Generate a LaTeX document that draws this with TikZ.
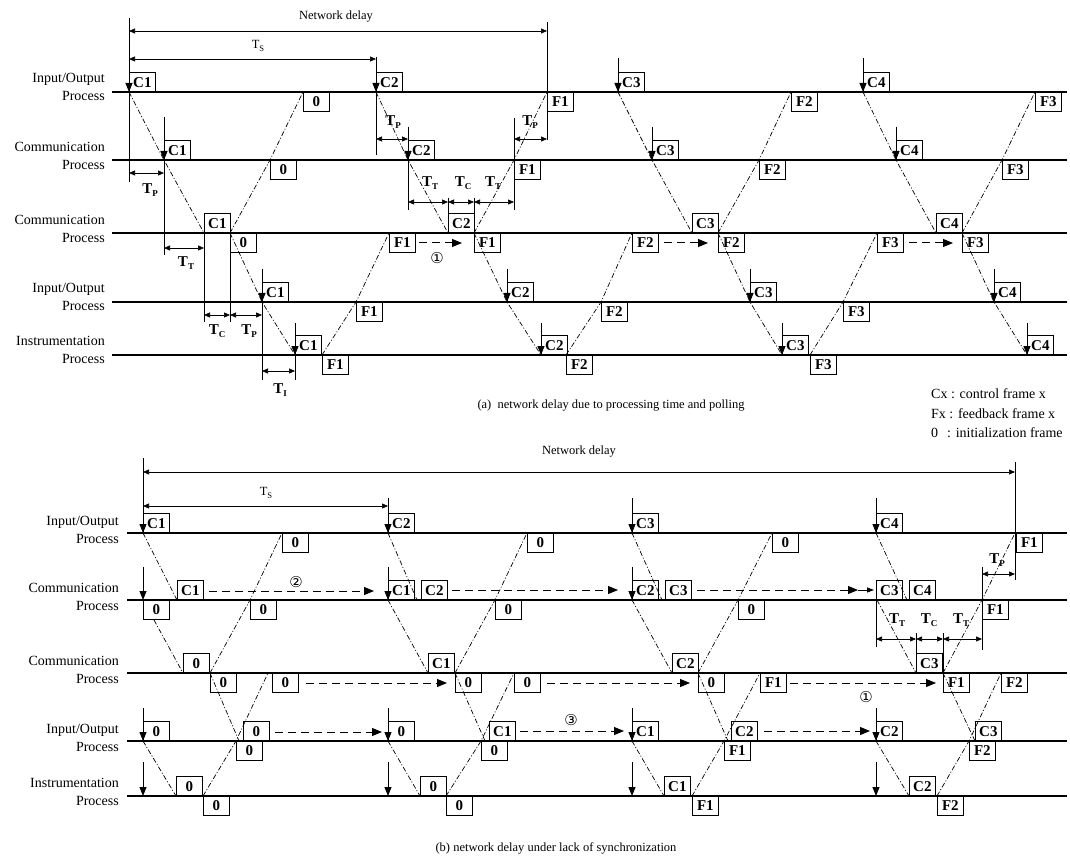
\documentclass[tikz,border=0pt]{standalone}
\usepackage{fontspec}
\setmainfont{Liberation Serif}
\newfontfamily\djv{DejaVu Sans}
\usetikzlibrary{arrows.meta}
\tikzset{
  rowline/.style={line width=1.1pt},
  dd/.style={line width=0.7pt, dash pattern=on 5pt off 2pt on 1pt off 2pt},
  frm/.style={draw, line width=0.7pt, minimum width=26pt, minimum height=19pt, inner sep=0.5pt, font=\fontsize{15}{15}\selectfont\bfseries},
  up/.style={frm, anchor=south west},
  dn/.style={frm, anchor=north west},
  darr/.style={line width=0.9pt, -{Triangle[length=9pt,width=7pt]}},
  dim/.style={line width=0.6pt, {Triangle[length=6pt,width=5pt]}-{Triangle[length=6pt,width=5pt]}},
  bnd/.style={line width=0.6pt},
  dsh/.style={line width=1pt, dash pattern=on 8pt off 5pt, -{Triangle[length=10pt,width=8pt]}},
  rowlab/.style={anchor=east, align=right, inner sep=0pt, font=\fontsize{14}{18.5}\selectfont},
  tlab/.style={inner sep=0pt, font=\fontsize{15}{15}\selectfont\bfseries},
  txt/.style={inner sep=0pt, font=\fontsize{12.5}{12.5}\selectfont},
  legend/.style={inner sep=0pt, anchor=west, font=\fontsize{14}{14}\selectfont},
  circ/.style={inner sep=0pt, font=\djv\fontsize{15}{15}\selectfont},
}
\newcommand{\Tx}[1]{T\raisebox{-3pt}{\fontsize{9}{9}\selectfont #1}}
\newcommand{\Ts}[1]{T\raisebox{-2.5pt}{\fontsize{8.5}{8.5}\selectfont #1}}
\newcommand{\dar}[2]{\path (#1) ++(0,-#2) coordinate (#1t); \draw[darr] (#1t) -- (#1);}
\newcommand{\vb}[4]{\coordinate (#1a) at (#2,#3); \coordinate (#1b) at (#2,#4); \draw[bnd] (#1a) -- (#1b);}
\newcommand{\dimar}[4]{\coordinate (#1a) at (#2,#4); \coordinate (#1b) at (#3,#4); \draw[dim] (#1a) -- (#1b);}
\newcommand{\dsa}[4]{\coordinate (#1a) at (#2,#4); \coordinate (#1b) at (#3,#4); \draw[dsh] (#1a) -- (#1b);}
\begin{document}
\begin{tikzpicture}[x=1pt,y=-1pt]
\useasboundingbox (0,0) rectangle (1070,858);
\def\aA{92}\def\aB{160}\def\aC{233}\def\aD{302}\def\aE{355}
\def\bA{533}\def\bB{600}\def\bC{673}\def\bD{741}\def\bE{796}

% ================= (a) =================
\foreach \r/\y in {1/\aA,2/\aB,3/\aC,4/\aD,5/\aE}{
  \coordinate (aL\r) at (112,\y); \coordinate (aR\r) at (1067,\y);
  \draw[rowline] (aL\r) -- (aR\r);
}
\node[rowlab] (laA) at (105,\aA-5) {Input/Output\\Process};
\node[rowlab] (laB) at (105,\aB-4) {Communication\\Process};
\node[rowlab] (laC) at (105,\aC-4) {Communication\\Process};
\node[rowlab] (laD) at (105,\aD-5) {Input/Output\\Process};
\node[rowlab] (laE) at (105,\aE-5) {Instrumentation\\Process};

\coordinate (a1c1) at (129,\aA);
\coordinate (a2c1) at (164,\aB);
\coordinate (a3c1) at (204,\aC);
\coordinate (a3c1r) at (230,\aC);
\coordinate (a4c1) at (262,\aD);
\coordinate (a5c1) at (295,\aE);
\coordinate (a2z) at (270,\aB);
\coordinate (a1z) at (303,\aA);
\coordinate (a5f1) at (322,\aE);
\coordinate (a4f1) at (356,\aD);
\coordinate (a3f1) at (389,\aC);
\coordinate (a1c2) at (376,\aA);
\coordinate (a2c2) at (408,\aB);
\coordinate (a3c2) at (448,\aC);
\coordinate (a3c2r) at (474,\aC);
\coordinate (a2f1) at (514,\aB);
\coordinate (a1f1) at (547,\aA);
\coordinate (a4c2) at (507,\aD);
\coordinate (a5c2) at (541,\aE);
\coordinate (a5f2) at (566,\aE);
\coordinate (a4f2) at (601,\aD);
\coordinate (a3f2) at (632,\aC);
\coordinate (a1c3) at (618,\aA);
\coordinate (a2c3) at (652,\aB);
\coordinate (a3c3) at (692,\aC);
\coordinate (a3c3r) at (718,\aC);
\coordinate (a2f2) at (759,\aB);
\coordinate (a1f2) at (791,\aA);
\coordinate (a4c3) at (750,\aD);
\coordinate (a5c3) at (782,\aE);
\coordinate (a5f3) at (810,\aE);
\coordinate (a4f3) at (843,\aD);
\coordinate (a3f3) at (877,\aC);
\coordinate (a1c4) at (863,\aA);
\coordinate (a2c4) at (896,\aB);
\coordinate (a3c4) at (936,\aC);
\coordinate (a3c4r) at (962,\aC);
\coordinate (a2f3) at (1002,\aB);
\coordinate (a1f3) at (1035,\aA);
\coordinate (a4c4) at (994,\aD);
\coordinate (a5c4) at (1027,\aE);

\draw[dd] (a1c1) -- (a2c1) -- (a3c1);
\draw[dd] (a3c1r) -- (a4c1) -- (a5c1);
\draw[dd] (a3c1r) -- (a2z) -- (a1z);
\draw[dd] (a5f1) -- (a4f1) -- (a3f1);
\draw[dd] (a1c2) -- (a2c2) -- (a3c2);
\draw[dd] (a3c2r) -- (a4c2) -- (a5c2);
\draw[dd] (a3c2r) -- (a2f1) -- (a1f1);
\draw[dd] (a5f2) -- (a4f2) -- (a3f2);
\draw[dd] (a1c3) -- (a2c3) -- (a3c3);
\draw[dd] (a3c3r) -- (a4c3) -- (a5c3);
\draw[dd] (a3c3r) -- (a2f2) -- (a1f2);
\draw[dd] (a5f3) -- (a4f3) -- (a3f3);
\draw[dd] (a1c4) -- (a2c4) -- (a3c4);
\draw[dd] (a3c4r) -- (a4c4) -- (a5c4);
\draw[dd] (a3c4r) -- (a2f3) -- (a1f3);

% boxes (a)
\node[up] (na1c1) at (a1c1) {C1};
\node[dn] (na1z) at (a1z) {0};
\node[up] (na1c2) at (a1c2) {C2};
\node[dn] (na1f1) at (a1f1) {F1};
\node[up] (na1c3) at (a1c3) {C3};
\node[dn] (na1f2) at (a1f2) {F2};
\node[up] (na1c4) at (a1c4) {C4};
\node[dn] (na1f3) at (a1f3) {F3};
\node[up] (na2c1) at (a2c1) {C1};
\node[dn] (na2z) at (a2z) {0};
\node[up] (na2c2) at (a2c2) {C2};
\node[dn] (na2f1) at (a2f1) {F1};
\node[up] (na2c3) at (a2c3) {C3};
\node[dn] (na2f2) at (a2f2) {F2};
\node[up] (na2c4) at (a2c4) {C4};
\node[dn] (na2f3) at (a2f3) {F3};
\node[up] (na3c1) at (a3c1) {C1};
\node[dn] (na3z) at (a3c1r) {0};
\node[dn] (na3f1) at (a3f1) {F1};
\node[up] (na3c2) at (a3c2) {C2};
\node[dn] (na3f1b) at (a3c2r) {F1};
\node[dn] (na3f2) at (a3f2) {F2};
\node[up] (na3c3) at (a3c3) {C3};
\node[dn] (na3f2b) at (a3c3r) {F2};
\node[dn] (na3f3) at (a3f3) {F3};
\node[up] (na3c4) at (a3c4) {C4};
\node[dn] (na3f3b) at (a3c4r) {F3};
\node[up] (na4c1) at (a4c1) {C1};
\node[dn] (na4f1) at (a4f1) {F1};
\node[up] (na4c2) at (a4c2) {C2};
\node[dn] (na4f2) at (a4f2) {F2};
\node[up] (na4c3) at (a4c3) {C3};
\node[dn] (na4f3) at (a4f3) {F3};
\node[up] (na4c4) at (a4c4) {C4};
\node[up] (na5c1) at (a5c1) {C1};
\node[dn] (na5f1) at (a5f1) {F1};
\node[up] (na5c2) at (a5c2) {C2};
\node[dn] (na5f2) at (a5f2) {F2};
\node[up] (na5c3) at (a5c3) {C3};
\node[dn] (na5f3) at (a5f3) {F3};
\node[up] (na5c4) at (a5c4) {C4};

% down arrows (a)
\dar{a1c1}{32} \dar{a1c2}{34} \dar{a1c3}{34} \dar{a1c4}{34}
\dar{a2c1}{43} \dar{a2c2}{33} \dar{a2c3}{33} \dar{a2c4}{33}
\dar{a4c1}{33} \dar{a4c2}{33} \dar{a4c3}{33} \dar{a4c4}{33}
\dar{a5c1}{32} \dar{a5c2}{32} \dar{a5c3}{32} \dar{a5c4}{32}

% bound lines (a)
\vb{va1}{129}{18}{182}
\vb{va2}{376}{57}{155}
\vb{va3}{547}{22}{140}
\vb{va4}{164}{160}{255}
\vb{va5}{408}{160}{210}
\vb{va6}{514}{118}{210}
\vb{va7}{448}{198}{214}
\vb{va8}{474}{198}{214}
\vb{va9}{204}{233}{322}
\vb{va10}{230}{233}{322}
\vb{va11}{262}{302}{380}
\vb{va12}{295}{355}{380}

% dimension arrows (a)
\dimar{ndA}{129}{547}{31}
\dimar{tsA}{129}{376}{59}
\dimar{tpA1}{129}{164}{173}
\dimar{tpA2}{376}{408}{139}
\dimar{tpA3}{514}{547}{139}
\dimar{ttA1}{164}{204}{248}
\dimar{ttA2}{408}{448}{202}
\dimar{tcA2}{448}{474}{202}
\dimar{ttA3}{474}{514}{202}
\dimar{tcA1}{204}{230}{315}
\dimar{tpA4}{230}{262}{315}
\dimar{tiA}{262}{295}{371}

\node[txt] (lndA) at (336,17) {Network delay};
\node[txt] (ltsA) at (258,46) {\Ts{S}};
\node[tlab] (ltpA1) at (150,190) {\Tx{P}};
\node[tlab] (ltpA2) at (393,122) {\Tx{P}};
\node[tlab] (ltpA3) at (530,122) {\Tx{P}};
\node[tlab] (lttA1) at (186,263) {\Tx{T}};
\node[tlab] (lttA2) at (430,183) {\Tx{T}};
\node[tlab] (ltcA2) at (463,183) {\Tx{C}};
\node[tlab] (lttA3) at (493,183) {\Tx{T}};
\node[tlab] (ltcA1) at (217,331) {\Tx{C}};
\node[tlab] (ltpA4) at (249,331) {\Tx{P}};
\node[tlab] (ltiA) at (280,390) {\Tx{I}};

% dashed transfers (a)
\dsa{dsA1}{419}{462}{243}
\dsa{dsA2}{664}{708}{243}
\dsa{dsA3}{909}{953}{243}
\node[circ] (c1A) at (437,258) {①};

% legend and caption (a)
\node[legend] (lg1) at (931,394) {Cx : control frame x};
\node[legend] (lg2) at (931,414) {Fx : feedback frame x};
\node[legend] (lg3) at (931,433) {0\hspace{9pt}: initialization frame};
\node[txt] (capa) at (611,406) {(a)\ \ network delay due to processing time and polling};

% ================= (b) =================
\foreach \r/\y in {1/\bA,2/\bB,3/\bC,4/\bD,5/\bE}{
  \coordinate (bL\r) at (127,\y); \coordinate (bR\r) at (1067,\y);
  \draw[rowline] (bL\r) -- (bR\r);
}
\node[rowlab] (lbA) at (119,\bA-3) {Input/Output\\Process};
\node[rowlab] (lbB) at (119,\bB-3) {Communication\\Process};
\node[rowlab] (lbC) at (119,\bC-3) {Communication\\Process};
\node[rowlab] (lbD) at (119,\bD-3) {Input/Output\\Process};
\node[rowlab] (lbE) at (119,\bE-4) {Instrumentation\\Process};

% cycle 1
\coordinate (b1c1) at (143,\bA);
\coordinate (b2c1) at (177,\bB);
\coordinate (b2i1) at (143,\bB);
\coordinate (b2i1s) at (154,620);
\coordinate (b3i1) at (183,\bC);
\coordinate (b3i1r) at (210,\bC);
\coordinate (b2z1) at (250,\bB);
\coordinate (b1z1) at (282,\bA);
\coordinate (b4x1) at (239,\bD);
\coordinate (b4i1) at (143,\bD);
\coordinate (b5a1) at (143,\bE);
\coordinate (b5i1) at (176,\bE);
\coordinate (b5i1r) at (203,\bE);
\coordinate (b4z1) at (236,\bD);
\coordinate (b3z1) at (268,\bC);
% cycle 2
\coordinate (b1c2) at (388,\bA);
\coordinate (b2c2) at (417,\bB);
\coordinate (b2i2) at (388,\bB);
\coordinate (b3i2) at (428,\bC);
\coordinate (b3i2r) at (455,\bC);
\coordinate (b2z2) at (495,\bB);
\coordinate (b1z2) at (527,\bA);
\coordinate (b4x2) at (485,\bD);
\coordinate (b4i2) at (388,\bD);
\coordinate (b5a2) at (388,\bE);
\coordinate (b5i2) at (420,\bE);
\coordinate (b5i2r) at (446,\bE);
\coordinate (b4z2) at (481,\bD);
\coordinate (b3z2) at (514,\bC);
% cycle 3
\coordinate (b1c3) at (632,\bA);
\coordinate (b2c3) at (662,\bB);
\coordinate (b2i3) at (632,\bB);
\coordinate (b3i3) at (672,\bC);
\coordinate (b3i3r) at (698,\bC);
\coordinate (b2z3) at (738,\bB);
\coordinate (b1z3) at (772,\bA);
\coordinate (b4x3) at (728,\bD);
\coordinate (b4i3) at (632,\bD);
\coordinate (b5a3) at (632,\bE);
\coordinate (b5i3) at (664,\bE);
\coordinate (b5i3r) at (692,\bE);
\coordinate (b4f3) at (724,\bD);
\coordinate (b3f3) at (760,\bC);
% cycle 4
\coordinate (b1c4) at (876,\bA);
\coordinate (b2c4) at (907,\bB);
\coordinate (b2i4) at (877,\bB);
\coordinate (b3i4) at (916,\bC);
\coordinate (b3i4r) at (943,\bC);
\coordinate (b2f4) at (982,\bB);
\coordinate (b1f4) at (1015,\bA);
\coordinate (b4x4) at (975,\bD);
\coordinate (b4i4) at (876,\bD);
\coordinate (b5a4) at (876,\bE);
\coordinate (b5i4) at (909,\bE);
\coordinate (b5i4r) at (937,\bE);
\coordinate (b4f4) at (969,\bD);
\coordinate (b3f4) at (1001,\bC);

\draw[dd] (b1c1) -- (b2c1);
\draw[dd] (b2i1s) -- (b3i1);
\draw[dd] (b3i1r) -- (b2z1) -- (b1z1);
\draw[dd] (b3i1r) -- (b4x1);
\draw[dd] (b4i1) -- (b5i1);
\draw[dd] (b5i1r) -- (b4z1) -- (b3z1);
\draw[dd] (b1c2) -- (b2c2);
\draw[dd] (b2i2) -- (b3i2);
\draw[dd] (b3i2r) -- (b2z2) -- (b1z2);
\draw[dd] (b3i2r) -- (b4x2);
\draw[dd] (b4i2) -- (b5i2);
\draw[dd] (b5i2r) -- (b4z2) -- (b3z2);
\draw[dd] (b1c3) -- (b2c3);
\draw[dd] (b2i3) -- (b3i3);
\draw[dd] (b3i3r) -- (b2z3) -- (b1z3);
\draw[dd] (b3i3r) -- (b4x3);
\draw[dd] (b4i3) -- (b5i3);
\draw[dd] (b5i3r) -- (b4f3) -- (b3f3);
\draw[dd] (b1c4) -- (b2c4);
\draw[dd] (b2i4) -- (b3i4);
\draw[dd] (b3i4r) -- (b2f4) -- (b1f4);
\draw[dd] (b3i4r) -- (b4x4);
\draw[dd] (b4i4) -- (b5i4);
\draw[dd] (b5i4r) -- (b4f4) -- (b3f4);

% boxes (b) row 1
\node[up] (nb1c1) at (b1c1) {C1};
\node[dn] (nb1z1) at (b1z1) {0};
\node[up] (nb1c2) at (b1c2) {C2};
\node[dn] (nb1z2) at (b1z2) {0};
\node[up] (nb1c3) at (b1c3) {C3};
\node[dn] (nb1z3) at (b1z3) {0};
\node[up] (nb1c4) at (b1c4) {C4};
\node[dn] (nb1f4) at (1016,\bA) {F1};
% row 2
\node[dn] (nb2i1) at (b2i1) {0};
\node[up] (nb2c1) at (b2c1) {C1};
\node[dn] (nb2z1) at (b2z1) {0};
\node[up] (nb2i2) at (b2i2) {C1};
\node[up] (nb2c2) at (421,\bB) {C2};
\node[dn] (nb2z2) at (b2z2) {0};
\node[up] (nb2i3) at (b2i3) {C2};
\node[up] (nb2c3) at (665,\bB) {C3};
\node[dn] (nb2z3) at (b2z3) {0};
\node[up] (nb2i4) at (876,\bB) {C3};
\node[up] (nb2c4) at (909,\bB) {C4};
\node[dn] (nb2f4) at (b2f4) {F1};
% row 3
\node[up] (nb3i1) at (b3i1) {0};
\node[dn] (nb3i1r) at (b3i1r) {0};
\node[dn] (nb3z1) at (272,\bC) {0};
\node[up] (nb3i2) at (b3i2) {C1};
\node[dn] (nb3i2r) at (b3i2r) {0};
\node[dn] (nb3z2) at (b3z2) {0};
\node[up] (nb3i3) at (b3i3) {C2};
\node[dn] (nb3i3r) at (b3i3r) {0};
\node[dn] (nb3f3) at (b3f3) {F1};
\node[up] (nb3i4) at (b3i4) {C3};
\node[dn] (nb3i4r) at (b3i4r) {F1};
\node[dn] (nb3f4) at (b3f4) {F2};
% row 4
\node[up] (nb4i1) at (b4i1) {0};
\node[dn] (nb4z1) at (b4z1) {0};
\node[up] (nb4x1) at (243,\bD) {0};
\node[up] (nb4i2) at (b4i2) {0};
\node[dn] (nb4z2) at (b4z2) {0};
\node[up] (nb4x2) at (489,\bD) {C1};
\node[up] (nb4i3) at (b4i3) {C1};
\node[dn] (nb4f3) at (b4f3) {F1};
\node[up] (nb4x3) at (731,\bD) {C2};
\node[up] (nb4i4) at (b4i4) {C2};
\node[dn] (nb4f4) at (b4f4) {F2};
\node[up] (nb4x4) at (b4x4) {C3};
% row 5
\node[up] (nb5i1) at (b5i1) {0};
\node[dn] (nb5i1r) at (b5i1r) {0};
\node[up] (nb5i2) at (b5i2) {0};
\node[dn] (nb5i2r) at (b5i2r) {0};
\node[up] (nb5i3) at (b5i3) {C1};
\node[dn] (nb5i3r) at (b5i3r) {F1};
\node[up] (nb5i4) at (b5i4) {C2};
\node[dn] (nb5i4r) at (b5i4r) {F2};

% down arrows (b)
\dar{b1c1}{33} \dar{b1c2}{35} \dar{b1c3}{35} \dar{b1c4}{35}
\dar{b2i1}{33} \dar{b2i2}{33} \dar{b2i3}{33}
\dar{b4i1}{33} \dar{b4i2}{33} \dar{b4i3}{33} \dar{b4i4}{33}
\dar{b5a1}{34} \dar{b5a2}{34} \dar{b5a3}{34} \dar{b5a4}{34}

% bound lines (b)
\vb{vb1}{143}{458}{533}
\vb{vb2}{1015}{462}{580}
\vb{vb3}{982}{567}{650}
\vb{vb4}{876}{600}{647}
\vb{vb5}{916}{633}{673}
\vb{vb6}{943}{633}{673}

% dimension arrows (b)
\dimar{ndB}{143}{1015}{472}
\dimar{tsB}{143}{388}{506}
\dimar{tpB}{982}{1015}{574}
\dimar{ttB1}{876}{916}{639}
\dimar{tcB}{916}{943}{639}
\dimar{ttB2}{943}{982}{639}
\node[txt] (lndB) at (579,452) {Network delay};
\node[txt] (ltsB) at (266,493) {\Ts{S}};
\node[tlab] (ltpB) at (997,560) {\Tx{P}};
\node[tlab] (lttB1) at (897,620) {\Tx{T}};
\node[tlab] (ltcB) at (929,620) {\Tx{C}};
\node[tlab] (lttB2) at (961,620) {\Tx{T}};

% dashed transfers (b)
\dsa{dsB1}{209}{374}{591}
\dsa{dsB2}{452}{618}{590}
\dsa{dsB3}{697}{858}{590}
\coordinate (dsB3c) at (874,590);
\draw[line width=0.8pt, -{Triangle[length=7pt,width=5pt]}] (dsB3b) -- (dsB3c);
\dsa{dsB4}{306}{447}{683}
\dsa{dsB5}{547}{690}{683}
\dsa{dsB6}{790}{936}{683}
\dsa{dsB7}{275}{382}{732}
\dsa{dsB8}{520}{624}{731}
\dsa{dsB9}{764}{870}{731}
\node[circ] (c2B) at (296,582) {②};
\node[circ] (c3B) at (571,720) {③};
\node[circ] (c1B) at (866,697) {①};

\node[txt] (capb) at (556,848) {(b) network delay under lack of synchronization};
\end{tikzpicture}
\end{document}
